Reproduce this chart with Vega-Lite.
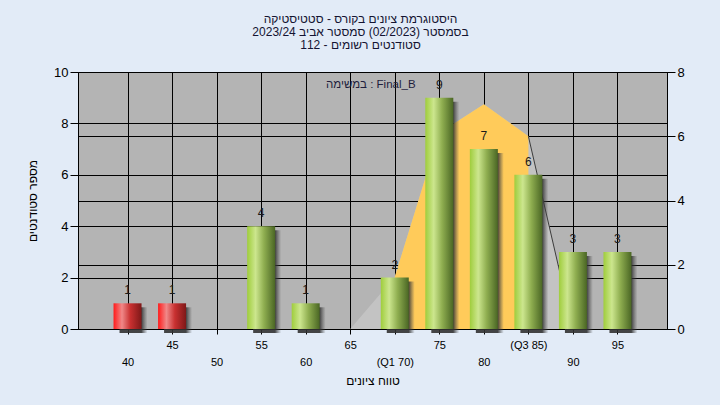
{
  "$schema": "https://vega.github.io/schema/vega-lite/v6.json",
  "width": 589,
  "height": 257,
  "autosize": "none",
  "padding": {"left": 78, "top": 72, "right": 53, "bottom": 76},
  "background": "#e2ebf7",
  "config": {
    "font": "Liberation Sans",
    "view": {"fill": "#b4b4b4", "stroke": "#000000", "strokeWidth": 1},
    "axis": {
      "gridColor": "#000000", "gridOpacity": 1, "gridWidth": 1,
      "tickColor": "#000000", "domain": false,
      "labelColor": "#000000", "labelFont": "Liberation Sans",
      "titleFont": "Liberation Sans", "titleFontWeight": "normal", "titleColor": "#000000"
    }
  },
  "title": {
    "text": [
      "היסטוגרמת ציונים בקורס - סטטיסטיקה",
      "בסמסטר  (02/2023)  סמסטר אביב 2023/24",
      "סטודנטים רשומים - 112"
    ],
    "fontSize": 12, "fontWeight": "normal", "color": "#141432",
    "lineHeight": 13, "anchor": "middle", "dx": -12, "offset": 14
  },
  "datasets": {
    "bars": [
      {"grade": 40, "count": 1, "pass": "no"},
      {"grade": 45, "count": 1, "pass": "no"},
      {"grade": 55, "count": 4, "pass": "yes"},
      {"grade": 60, "count": 1, "pass": "yes"},
      {"grade": 70, "count": 2, "pass": "yes"},
      {"grade": 75, "count": 9, "pass": "yes"},
      {"grade": 80, "count": 7, "pass": "yes"},
      {"grade": 85, "count": 6, "pass": "yes"},
      {"grade": 90, "count": 3, "pass": "yes"},
      {"grade": 95, "count": 3, "pass": "yes"}
    ],
    "curve": [
      {"grade": 65, "v": 0},
      {"grade": 70, "v": 1.62},
      {"grade": 75, "v": 6.1},
      {"grade": 80, "v": 7},
      {"grade": 85, "v": 6},
      {"grade": 90, "v": 0}
    ]
  },
  "encoding": {
    "x": {
      "field": "grade", "type": "quantitative",
      "scale": {"domain": [35, 100], "nice": false, "zero": false},
      "axis": {
        "values": [40, 45, 50, 55, 60, 65, 70, 75, 80, 85, 90, 95],
        "tickSize": 5, "labelFontSize": 11, "labelFlush": false,
        "labelExpr": "datum.value == 70 ? '(Q1 70)' : datum.value == 85 ? '(Q3 85)' : datum.label",
        "labelPadding": {"condition": {"test": "datum.value % 10 == 0", "value": 22}, "value": 5},
        "title": "טווח ציונים", "titleFontSize": 12, "titlePadding": 8,
        "grid": true
      }
    }
  },
  "layer": [
    {
      "data": {"name": "curve"},
      "encoding": {
        "y": {
          "field": "v", "type": "quantitative",
          "scale": {"domain": [0, 8], "nice": false},
          "axis": {"orient": "right", "values": [0, 2, 4, 6, 8], "tickSize": 8, "labelFontSize": 13, "labelPadding": 2, "title": null, "grid": true}
        }
      },
      "layer": [
        {"mark": {"type": "area", "color": "#c3c3c3"}},
        {"transform": [{"filter": "datum.grade >= 70 && datum.grade <= 85"}], "mark": {"type": "area", "color": "#ffcb5a"}},
        {"transform": [{"filter": "datum.grade >= 85"}], "mark": {"type": "line", "color": "#3c3c3c", "strokeWidth": 1}}
      ]
    },
    {
      "data": {"name": "bars"},
      "encoding": {
        "y": {
          "field": "count", "type": "quantitative",
          "scale": {"domain": [0, 10], "nice": false},
          "axis": {"orient": "left", "values": [0, 2, 4, 6, 8, 10], "tickSize": 8, "labelFontSize": 13, "labelPadding": 2, "title": "מספר סטודנטים", "titleFontSize": 12, "titlePadding": 14, "grid": true}
        }
      },
      "layer": [
        {
          "mark": {"type": "bar", "width": 28, "xOffset": 6, "yOffset": 4,
            "color": {"gradient": "linear", "x1": 0, "y1": 0, "x2": 1, "y2": 0,
              "stops": [{"offset": 0, "color": "rgba(50,50,50,0.9)"}, {"offset": 0.78, "color": "rgba(50,50,50,0.9)"}, {"offset": 1, "color": "rgba(80,80,80,0)"}]}}
        },
        {
          "transform": [{"filter": "datum.pass == 'no'"}],
          "mark": {"type": "bar", "width": 28,
            "color": {"gradient": "linear", "x1": 0, "y1": 0, "x2": 1, "y2": 0,
              "stops": [{"offset": 0, "color": "#ff1a1a"}, {"offset": 0.3, "color": "#f08888"}, {"offset": 0.6, "color": "#c83030"}, {"offset": 1, "color": "#7e1818"}]}}
        },
        {
          "transform": [{"filter": "datum.pass == 'yes'"}],
          "mark": {"type": "bar", "width": 28,
            "color": {"gradient": "linear", "x1": 0, "y1": 0, "x2": 1, "y2": 0,
              "stops": [{"offset": 0, "color": "#9fcd3c"}, {"offset": 0.3, "color": "#cce68e"}, {"offset": 0.6, "color": "#8fae50"}, {"offset": 1, "color": "#4a6624"}]}}
        },
        {
          "mark": {"type": "text", "baseline": "bottom", "dy": -6, "fontSize": 12, "color": "#1a1a1a"},
          "encoding": {"text": {"field": "count", "type": "quantitative"}}
        },
        {
          "transform": [{"filter": "datum.grade == 70"}],
          "mark": {"type": "text", "fontSize": 11.5, "color": "#1e1e3c", "dx": -24},
          "encoding": {
            "y": {"datum": 9.5},
            "text": {"value": "במשימה : Final_B"}
          }
        }
      ]
    }
  ],
  "resolve": {"scale": {"y": "independent"}}
}
